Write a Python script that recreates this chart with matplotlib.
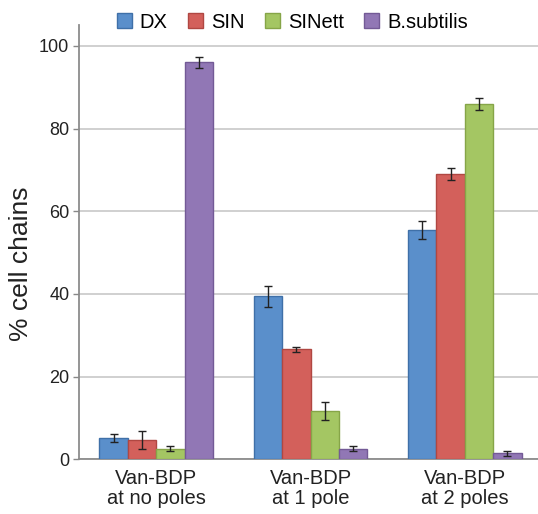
import matplotlib
matplotlib.use("Agg")
import matplotlib.pyplot as plt
import numpy as np

plt.rcParams['font.family'] = ['Liberation Sans', 'DejaVu Sans']

categories = ["Van-BDP\nat no poles", "Van-BDP\nat 1 pole", "Van-BDP\nat 2 poles"]
series = ["DX", "SIN", "SINett", "B.subtilis"]
dx = [5.1, 39.4, 55.5]
sin = [4.6, 26.6, 69.0]
sinett = [2.6, 11.7, 86.0]
bsub = [96.0, 2.6, 1.5]
dx_err = [1.0, 2.5, 2.1]
sin_err = [2.2, 0.6, 1.4]
sinett_err = [0.7, 2.1, 1.5]
bsub_err = [1.3, 0.6, 0.6]
yticks = [0, 20, 40, 60, 80, 100]

values = [dx, sin, sinett, bsub]
errors = [dx_err, sin_err, sinett_err, bsub_err]
colors = ["#5A8FCB", "#D3605B", "#A4C663", "#9177B5"]
edges = ["#3F70A8", "#B04742", "#86A548", "#735A96"]

fig = plt.figure(figsize=(5.38, 5.14), dpi=100)
ax = fig.add_axes([79/538, 54.7/514, (542-79)/538, (488.7-54.7)/514])

x = np.arange(len(categories))
w = 0.184
for i, (vals, errs) in enumerate(zip(values, errors)):
    pos = x + (i - 1.5) * w
    ax.bar(pos, vals, width=w, color=colors[i], edgecolor=edges[i],
           linewidth=1.0, label=series[i], zorder=3)
    ax.errorbar(pos, vals, yerr=errs, fmt='none', ecolor='#222222',
                elinewidth=1.0, capsize=3, capthick=1.0, zorder=4)

ax.set_xlim(-0.5, 2.5)
ax.set_ylim(0, 105)
ax.set_yticks(yticks)
ax.set_yticklabels([str(t) for t in yticks], fontsize=13, color='#222222')
ax.yaxis.grid(True, color='#C8C8C8', linewidth=1.2, zorder=0)
ax.set_axisbelow(True)
ax.set_xticks(x)
ax.set_xticklabels(categories, fontsize=14.5, color='#222222', linespacing=1.05)
ax.tick_params(axis='x', length=0, pad=7)
ax.tick_params(axis='y', length=4, width=1, color='#888888', pad=3, direction='out')

for s in ['top', 'right']:
    ax.spines[s].set_visible(False)
for s in ['left', 'bottom']:
    ax.spines[s].set_color('#8C8C8C')
    ax.spines[s].set_linewidth(1.3)

ax.set_ylabel("% cell chains", fontsize=19, color='#222222')
ax.yaxis.set_label_coords(-0.1, 0.45)

leg = fig.legend(loc='center', bbox_to_anchor=(0.543, 0.957), ncol=4, frameon=False,
                 fontsize=14.5, handlelength=0.75, handleheight=0.75,
                 handletextpad=0.4, columnspacing=1.0, borderaxespad=0)

fig.savefig("out.png", dpi=100)
